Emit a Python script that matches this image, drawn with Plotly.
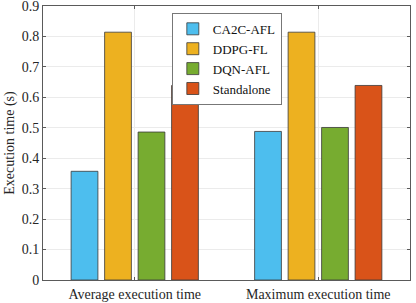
import plotly.graph_objects as go

categories = ["Average execution time", "Maximum execution time"]
series_names = ["CA2C-AFL", "DDPG-FL", "DQN-AFL", "Standalone"]
ca2c_afl = [0.357, 0.488]
ddpg_fl = [0.814, 0.814]
dqn_afl = [0.486, 0.501]
standalone = [0.639, 0.639]
y_ticks = [0, 0.1, 0.2, 0.3, 0.4, 0.5, 0.6, 0.7, 0.8, 0.9]

colors = ["#4DBEEE", "#EDB120", "#77AC30", "#D95319"]
values = [ca2c_afl, ddpg_fl, dqn_afl, standalone]
xpos = [1, 2]

SERIF = "Liberation Serif, Times New Roman, serif"

fig = go.Figure()
for name, vals, col in zip(series_names, values, colors):
    fig.add_trace(go.Bar(
        x=xpos, y=vals, name=name,
        marker=dict(color=col, line=dict(color="#3a3a3a", width=0.8)),
    ))

font = dict(family=SERIF, size=14, color="#262626")
axis_common = dict(
    showline=True, linecolor="#5a5a5a", linewidth=1, mirror="ticks",
    ticks="inside", ticklen=3, tickcolor="#5a5a5a",
    showgrid=True, gridcolor="#EBEBEB", gridwidth=1, zeroline=False,
    tickfont=dict(family=SERIF, size=14, color="#262626"),
    ticklabeloverflow="allow", automargin=False,
)
fig.update_layout(
    width=416, height=303,
    margin=dict(l=43, r=6, t=6, b=23),
    paper_bgcolor="white", plot_bgcolor="white",
    font=font,
    barmode="group", bargap=0.27, bargroupgap=0.2,
    showlegend=True,
    legend=dict(
        x=0.351, y=0.975, xanchor="left", yanchor="top",
        bgcolor="white", bordercolor="#777", borderwidth=1,
        font=dict(family=SERIF, size=13, color="#111"),
        tracegroupgap=0, itemwidth=30,
    ),
)
fig.update_xaxes(
    range=[0.5, 2.5], tickmode="array", tickvals=xpos, ticktext=categories,
    ticklabelstandoff=1,
    **axis_common,
)
fig.update_yaxes(
    range=[0, 0.9], tickmode="array", tickvals=y_ticks,
    ticktext=["0" if t == 0 else f"{t:.1f}" for t in y_ticks],
    title=dict(text="Execution time (s)", standoff=3, font=dict(family=SERIF, size=14, color="#262626")),
    **axis_common,
)
fig.write_html(
    "out.html",
    config={"displayModeBar": False},
    post_script="document.body.style.margin='0';document.body.style.padding='0';",
)
